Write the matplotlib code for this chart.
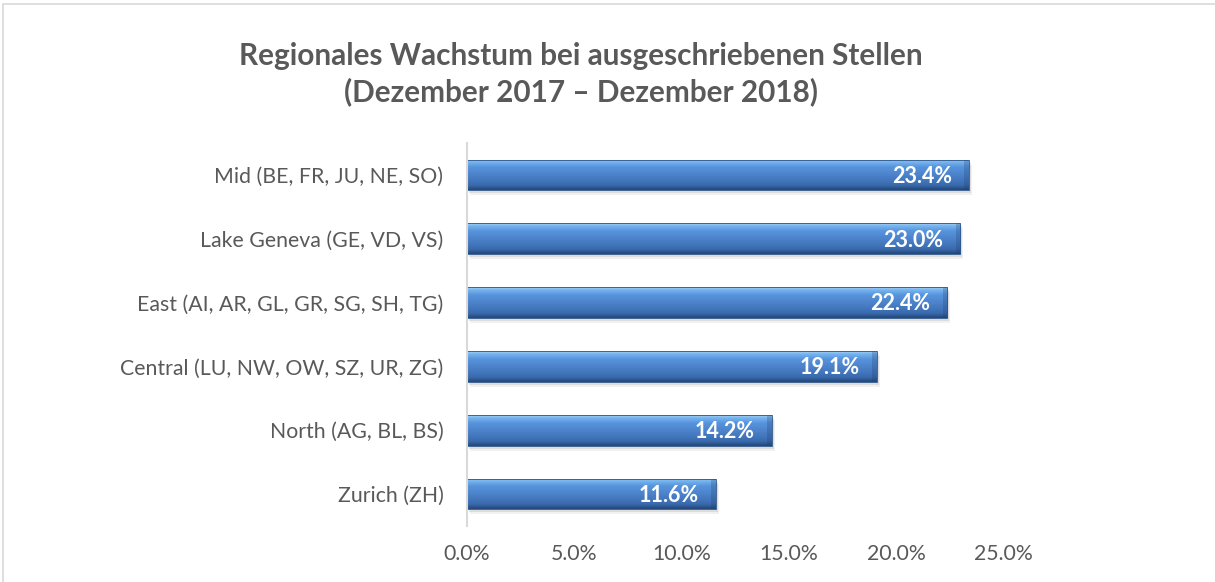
import numpy as np
import matplotlib.pyplot as plt
from matplotlib.colors import LinearSegmentedColormap
from matplotlib.patches import Rectangle
import matplotlib.transforms as mtransforms

regions = [
    "Mid (BE, FR, JU, NE, SO)",
    "Lake Geneva (GE, VD, VS)",
    "East (AI, AR, GL, GR, SG, SH, TG)",
    "Central (LU, NW, OW, SZ, UR, ZG)",
    "North (AG, BL, BS)",
    "Zurich (ZH)",
]
growth = [23.4, 23.0, 22.4, 19.1, 14.2, 11.6]
x_ticks = [0, 5, 10, 15, 20, 25]

title = "Regionales Wachstum bei ausgeschriebenen Stellen\n(Dezember 2017 \u2013 Dezember 2018)"
text_gray = "#595959"

plt.rcParams["font.family"] = ["Lato", "DejaVu Sans"]

fig = plt.figure(figsize=(12.15, 5.82), dpi=100)
ax = fig.add_axes([0.3844, 0.0962, 0.4412, 0.6581])

# light frame around the chart area (cut off on right/bottom like the original)
fig.patches.append(Rectangle((3 / 1215, -0.01), 1.2, 1 - 4 / 582 + 0.01,
                             transform=fig.transFigure, fill=False,
                             edgecolor="#d9d9d9", linewidth=1.2))

bar_h = 0.48
ypos = np.arange(len(regions))

grad_cmap = LinearSegmentedColormap.from_list("bevel", [
    (0.00, "#a8d6fb"),
    (0.07, "#7ab8f0"),
    (0.25, "#5794dc"),
    (0.55, "#4a80c8"),
    (0.85, "#3a6aae"),
    (1.00, "#234777"),
])
gradient = np.linspace(0, 1, 64).reshape(-1, 1)

# soft drop shadow
for dx, dy, a in [(2, -3, 0.18), (3, -5, 0.10)]:
    shadow_tf = mtransforms.offset_copy(ax.transData, fig=fig, x=dx, y=dy, units="dots")
    ax.barh(ypos, growth, height=bar_h, color="#7f7f7f", alpha=a,
            transform=shadow_tf, zorder=1)

bars = ax.barh(ypos, growth, height=bar_h, color="none",
               edgecolor="#2a5388", linewidth=0.6, zorder=3)

for bar, val in zip(bars, growth):
    y0 = bar.get_y()
    y1 = y0 + bar.get_height()
    im = ax.imshow(gradient, cmap=grad_cmap, aspect="auto",
                   extent=(0, val, y1, y0), origin="upper", zorder=2)
    im.set_clip_path(bar)
    # darker bevel at the bar end
    ax.add_patch(Rectangle((val - 0.22, y0), 0.22, bar.get_height(),
                           facecolor="#1f3f6e", alpha=0.25, linewidth=0, zorder=2.5))
    ax.text(val - 0.8, (y0 + y1) / 2 + 0.02, f"{val:.1f}%",
            ha="right", va="center", color="white", fontsize=15.5,
            fontweight="bold", zorder=4)

ax.set_xlim(0, 25)
ax.set_ylim(len(regions) - 0.5, -0.5)
ax.set_yticks(ypos)
ax.set_yticklabels(regions, fontsize=15.3, color=text_gray)
ax.set_xticks(x_ticks)
ax.set_xticklabels([f"{t:.1f}%" for t in x_ticks], fontsize=15.3, color=text_gray)
ax.tick_params(axis="both", length=0)
ax.tick_params(axis="y", pad=17)
ax.tick_params(axis="x", pad=13)

for side in ["top", "right", "bottom"]:
    ax.spines[side].set_visible(False)
ax.spines["left"].set_color("#d9d9d9")
ax.spines["left"].set_linewidth(1.5)
ax.spines["left"].set_zorder(5)

fig.text(0.478, 0.872, title, ha="center", va="center", fontsize=21.4,
         fontweight="bold", color=text_gray, linespacing=1.3)

fig.savefig("out.png", dpi=100)
